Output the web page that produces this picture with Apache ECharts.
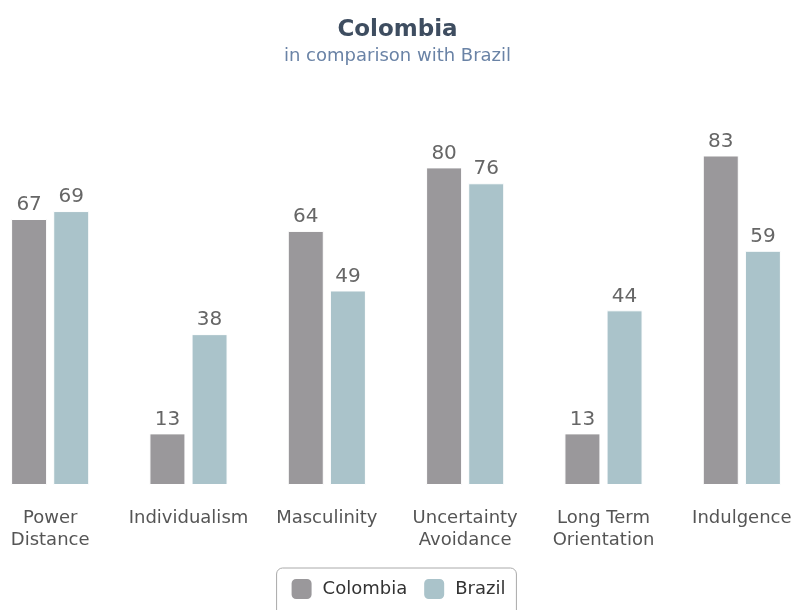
<!DOCTYPE html>
<html><head><meta charset="utf-8">
<script src="https://cdn.jsdelivr.net/npm/echarts@6/dist/echarts.min.js"></script>
<style>html,body{margin:0;padding:0;background:#fff}#c{width:795px;height:610px}</style>
</head><body><div id="c"></div>
<script>
const categories = ['Power\nDistance','Individualism','Masculinity','Uncertainty\nAvoidance','Long Term\nOrientation','Indulgence'];
const colombia = [67, 13, 64, 80, 13, 83];
const brazil = [69, 38, 49, 76, 44, 59];
const seriesNames = ['Colombia', 'Brazil'];
const FONT = 'DejaVu Sans';
const chart = echarts.init(document.getElementById('c'), null, {renderer: 'canvas'});
const labelCfg = {show: true, position: 'top', distance: 4, color: '#666', fontSize: 20, fontFamily: FONT};
chart.setOption({
  animation: false,
  textStyle: {fontFamily: FONT},
  title: {
    text: 'Colombia', subtext: 'in comparison with Brazil', left: 'center', top: 14, itemGap: 5,
    textStyle: {fontSize: 23, fontWeight: 'bold', color: '#3e4d60', fontFamily: FONT},
    subtextStyle: {fontSize: 18, color: '#6a83a6', fontFamily: FONT}
  },
  legend: {
    data: seriesNames, top: 568, left: 'center', itemWidth: 22, itemHeight: 22, itemGap: 15,
    borderColor: '#aaa', borderWidth: 1, borderRadius: 6, padding: [9, 11, 30, 13],
    icon: 'roundRect',
    textStyle: {fontSize: 18, color: '#333', fontFamily: FONT, padding: [0, 0, 0, 5]}
  },
  grid: {left: -19, right: -16, top: 88, bottom: 125, outerBoundsMode: 'none', containLabel: false},
  xAxis: {
    type: 'category', data: categories,
    axisLine: {show: false}, axisTick: {show: false},
    axisLabel: {color: '#555', fontSize: 18, lineHeight: 22, margin: 22, interval: 0, fontFamily: FONT}
  },
  yAxis: {type: 'value', min: 0, max: 100, show: false, splitLine: {show: false}},
  series: [
    {name: 'Colombia', type: 'bar', data: colombia, barWidth: 36, barGap: '17%',
     itemStyle: {color: '#9a989b', borderColor: '#fff', borderWidth: 1}, label: labelCfg},
    {name: 'Brazil', type: 'bar', data: brazil, barWidth: 36,
     itemStyle: {color: '#aac3ca', borderColor: '#fff', borderWidth: 1}, label: labelCfg}
  ]
});
</script></body></html>
